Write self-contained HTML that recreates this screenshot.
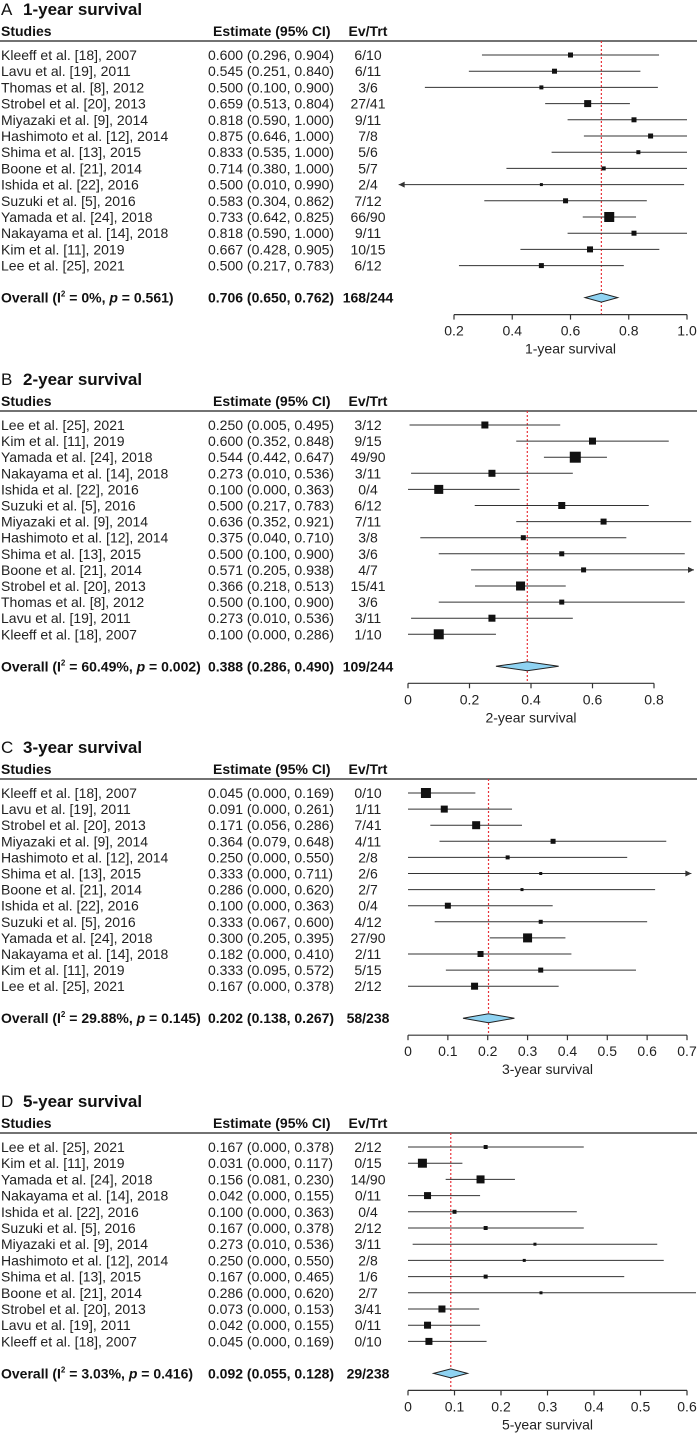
<!DOCTYPE html>
<html><head><meta charset="utf-8"><style>
html,body{margin:0;padding:0;background:#fff;}
svg{display:block;font-family:"Liberation Sans",Arial,sans-serif;}
</style></head><body>
<svg id="fig" width="697" height="1451" viewBox="0 0 697 1451" xmlns="http://www.w3.org/2000/svg"></svg>
<script>
// ---- Panel A: 1-year survival ----
const aStudies=["Kleeff et al. [18], 2007","Lavu et al. [19], 2011","Thomas et al. [8], 2012","Strobel et al. [20], 2013","Miyazaki et al. [9], 2014","Hashimoto et al. [12], 2014","Shima et al. [13], 2015","Boone et al. [21], 2014","Ishida et al. [22], 2016","Suzuki et al. [5], 2016","Yamada et al. [24], 2018","Nakayama et al. [14], 2018","Kim et al. [11], 2019","Lee et al. [25], 2021"];
const aEst=[0.600,0.545,0.500,0.659,0.818,0.875,0.833,0.714,0.500,0.583,0.733,0.818,0.667,0.500];
const aLo=[0.296,0.251,0.100,0.513,0.590,0.646,0.535,0.380,0.010,0.304,0.642,0.590,0.428,0.217];
const aHi=[0.904,0.840,0.900,0.804,1.000,1.000,1.000,1.000,0.990,0.862,0.825,1.000,0.905,0.783];
const aEv=["6/10","6/11","3/6","27/41","9/11","7/8","5/6","5/7","2/4","7/12","66/90","9/11","10/15","6/12"];
const aWt=[5,5,4,7,5,5,4,4,3,5,10,5,6,5];
const aOverall=[0.706,0.650,0.762];
const aTicks=[0.2,0.4,0.6,0.8,1.0];
const aTickLabels=["0.2","0.4","0.6","0.8","1.0"];

// ---- Panel B: 2-year survival ----
const bStudies=["Lee et al. [25], 2021","Kim et al. [11], 2019","Yamada et al. [24], 2018","Nakayama et al. [14], 2018","Ishida et al. [22], 2016","Suzuki et al. [5], 2016","Miyazaki et al. [9], 2014","Hashimoto et al. [12], 2014","Shima et al. [13], 2015","Boone et al. [21], 2014","Strobel et al. [20], 2013","Thomas et al. [8], 2012","Lavu et al. [19], 2011","Kleeff et al. [18], 2007"];
const bEst=[0.250,0.600,0.544,0.273,0.100,0.500,0.636,0.375,0.500,0.571,0.366,0.500,0.273,0.100];
const bLo=[0.005,0.352,0.442,0.010,0.000,0.217,0.352,0.040,0.100,0.205,0.218,0.100,0.010,0.000];
const bHi=[0.495,0.848,0.647,0.536,0.363,0.783,0.921,0.710,0.900,0.938,0.513,0.900,0.536,0.286];
const bEv=["3/12","9/15","49/90","3/11","0/4","6/12","7/11","3/8","3/6","4/7","15/41","3/6","3/11","1/10"];
const bWt=[7,7,11,7,9,7,6,5,5,5,9,5,7,10];
const bOverall=[0.388,0.286,0.490];
const bTicks=[0,0.2,0.4,0.6,0.8];
const bTickLabels=["0","0.2","0.4","0.6","0.8"];

// ---- Panel C: 3-year survival ----
const cStudies=["Kleeff et al. [18], 2007","Lavu et al. [19], 2011","Strobel et al. [20], 2013","Miyazaki et al. [9], 2014","Hashimoto et al. [12], 2014","Shima et al. [13], 2015","Boone et al. [21], 2014","Ishida et al. [22], 2016","Suzuki et al. [5], 2016","Yamada et al. [24], 2018","Nakayama et al. [14], 2018","Kim et al. [11], 2019","Lee et al. [25], 2021"];
const cEst=[0.045,0.091,0.171,0.364,0.250,0.333,0.286,0.100,0.333,0.300,0.182,0.333,0.167];
const cLo=[0.000,0.000,0.056,0.079,0.000,0.000,0.000,0.000,0.067,0.205,0.000,0.095,0.000];
const cHi=[0.169,0.261,0.286,0.648,0.550,0.711,0.620,0.363,0.600,0.395,0.410,0.572,0.378];
const cEv=["0/10","1/11","7/41","4/11","2/8","2/6","2/7","0/4","4/12","27/90","2/11","5/15","2/12"];
const cWt=[10,7,8,5,4,3,3,6,4,9,6,5,7];
const cOverall=[0.202,0.138,0.267];
const cTicks=[0,0.1,0.2,0.3,0.4,0.5,0.6,0.7];
const cTickLabels=["0","0.1","0.2","0.3","0.4","0.5","0.6","0.7"];

// ---- Panel D: 5-year survival ----
const dStudies=["Lee et al. [25], 2021","Kim et al. [11], 2019","Yamada et al. [24], 2018","Nakayama et al. [14], 2018","Ishida et al. [22], 2016","Suzuki et al. [5], 2016","Miyazaki et al. [9], 2014","Hashimoto et al. [12], 2014","Shima et al. [13], 2015","Boone et al. [21], 2014","Strobel et al. [20], 2013","Lavu et al. [19], 2011","Kleeff et al. [18], 2007"];
const dEst=[0.167,0.031,0.156,0.042,0.100,0.167,0.273,0.250,0.167,0.286,0.073,0.042,0.045];
const dLo=[0.000,0.000,0.081,0.000,0.000,0.000,0.010,0.000,0.000,0.000,0.000,0.000,0.000];
const dHi=[0.378,0.117,0.230,0.155,0.363,0.378,0.536,0.550,0.465,0.620,0.153,0.155,0.169];
const dEv=["2/12","0/15","14/90","0/11","0/4","2/12","3/11","2/8","1/6","2/7","3/41","0/11","0/10"];
const dWt=[4,9,8,7,4,4,3,3,4,3,7,7,7];
const dOverall=[0.092,0.055,0.128];
const dTicks=[0,0.1,0.2,0.3,0.4,0.5,0.6];
const dTickLabels=["0","0.1","0.2","0.3","0.4","0.5","0.6"];

const NS="http://www.w3.org/2000/svg";
const svg=document.getElementById('fig');
const FS='14';
function el(tag,attrs,parent){const e=document.createElementNS(NS,tag);for(const k in attrs)e.setAttribute(k,attrs[k]);(parent||svg).appendChild(e);return e;}
function fmt(v){return v.toFixed(3);}

function panel(cfg){
  const g=el('g',{});
  
  
  const y0=cfg.y0, step=cfg.step;
  const xs=v=>cfg.px0+(v-cfg.d0)/(cfg.d1-cfg.d0)*(cfg.px1-cfg.px0);
  // title
  const ta=el('text',{x:1,y:y0-40,'font-size':'17','fill':'#111'},g);
  
  
  ta.textContent=cfg.letter;
  const t=el('text',{x:23,y:y0-40,'font-size':'17','font-weight':'bold','fill':'#111'},g);
  
  
  t.textContent=cfg.title;
  // header
  const hs=[[1,'Studies','start'],[213,'Estimate (95% CI)','start'],[368,'Ev/Trt','middle']];
  hs.forEach(h=>{const e=el('text',{x:h[0],y:y0-19,'font-size':FS,'font-weight':'bold','text-anchor':h[2],fill:'#111'},g);
    
    
    e.textContent=h[1];});
  const hl=el('line',{x1:0,x2:697,y1:y0-14,y2:y0-14,stroke:'#444','stroke-width':1.5},g);
  
  
  const n=cfg.studies.length;
  const yOv=y0+(n-1)*step+32;
  const yAx=yOv+17;
  // ref line
  const xr=xs(cfg.overall[0]);
  const rl=el('line',{x1:xr,x2:xr,y1:y0-14,y2:yAx,stroke:'#e8333a','stroke-width':1.2,'stroke-dasharray':'2,2'},g);
  
  
  for(let i=0;i<n;i++){
    const y=y0+i*step;
    const r=el('g',{},g);
    
    
    const a=el('text',{x:1,y:y+5,'font-size':FS,fill:'#222'},r);a.textContent=cfg.studies[i];
    
    
    const b=el('text',{x:208,y:y+5,'font-size':FS,fill:'#222'},r);
    b.textContent=fmt(cfg.est[i])+' ('+fmt(cfg.lo[i])+', '+fmt(cfg.hi[i])+')';
    
    
    const c=el('text',{x:368,y:y+5,'font-size':FS,'text-anchor':'middle',fill:'#222'},r);c.textContent=cfg.ev[i];
    
    
    const lo=cfg.lo[i],hi=cfg.hi[i];
    const arrowL=lo<cfg.clipLo, arrowR=hi>cfg.clipHi;
    let x1=xs(lo),x2=Math.min(xs(hi),696);
    if(arrowR)x2=Math.min(x2,694);
    const ln=el('line',{x1:x1,x2:x2,y1:y,y2:y,stroke:'#333','stroke-width':1},r);
    
    
    if(arrowL){const p=el('path',{d:`M${x1} ${y} l6 -3 v6 z`,fill:'#333'},r);
      
      }
    if(arrowR){const p=el('path',{d:`M${x2} ${y} l-6 -3 v6 z`,fill:'#333'},r);
      
      }
    const s=cfg.wt[i];
    const sq=el('rect',{x:xs(cfg.est[i])-s/2,y:y-s/2,width:s,height:s,fill:'#111'},r);
    
    
  }
  // overall row
  const o1=el('text',{x:1,y:yOv+5,'font-size':FS,'font-weight':'bold',fill:'#111'},g);
  
  
  let s1=el('tspan',{},o1);s1.textContent='Overall (I';
  let s2=el('tspan',{'font-size':'8',dy:'-6'},o1);s2.textContent='2';
  let s3=el('tspan',{dy:'6'},o1);s3.textContent=' = '+cfg.i2+', ';
  let s4=el('tspan',{'font-style':'italic'},o1);s4.textContent='p';
  let s5=el('tspan',{},o1);s5.textContent=' = '+cfg.p+')';
  const o2=el('text',{x:208,y:yOv+5,'font-size':FS,'font-weight':'bold',fill:'#111'},g);
  o2.textContent=fmt(cfg.overall[0])+' ('+fmt(cfg.overall[1])+', '+fmt(cfg.overall[2])+')';
  
  
  const o3=el('text',{x:368,y:yOv+5,'font-size':FS,'font-weight':'bold','text-anchor':'middle',fill:'#111'},g);
  o3.textContent=cfg.ovEv;
  
  
  const dm=el('path',{d:`M${xs(cfg.overall[1])} ${yOv} L${xs(cfg.overall[0])} ${yOv-4.5} L${xs(cfg.overall[2])} ${yOv} L${xs(cfg.overall[0])} ${yOv+4.5} Z`,fill:'#8fd3f2',stroke:'#222','stroke-width':1},g);
  
  
  // axis
  const ax=el('line',{x1:cfg.px0,x2:cfg.px1,y1:yAx,y2:yAx,stroke:'#333','stroke-width':1.2},g);
  
  
  cfg.ticks.forEach((v,k)=>{
    const tk=el('line',{x1:xs(v),x2:xs(v),y1:yAx,y2:yAx+5,stroke:'#333','stroke-width':1.2},g);
    
    
    const tl=el('text',{x:xs(v),y:yAx+21,'font-size':FS,'text-anchor':'middle',fill:'#222'},g);
    tl.textContent=cfg.tickLabels[k];
    
    
  });
  const xt=el('text',{x:(cfg.px0+cfg.px1)/2,y:yAx+39,'font-size':FS,'text-anchor':'middle',fill:'#222'},g);
  xt.textContent=cfg.title;
  
  
}

panel({letter:'A',title:'1-year survival',y0:55,step:16.2,studies:aStudies,est:aEst,lo:aLo,hi:aHi,ev:aEv,wt:aWt,overall:aOverall,ovEv:'168/244',i2:'0%',p:'0.561',ticks:aTicks,tickLabels:aTickLabels,d0:0.2,d1:1.0,px0:454,px1:687,clipLo:0.05,clipHi:1.05});
panel({letter:'B',title:'2-year survival',y0:425,step:16.1,studies:bStudies,est:bEst,lo:bLo,hi:bHi,ev:bEv,wt:bWt,overall:bOverall,ovEv:'109/244',i2:'60.49%',p:'0.002',ticks:bTicks,tickLabels:bTickLabels,d0:0,d1:0.8,px0:408,px1:654,clipLo:-1,clipHi:0.93});
panel({letter:'C',title:'3-year survival',y0:793,step:16.1,studies:cStudies,est:cEst,lo:cLo,hi:cHi,ev:cEv,wt:cWt,overall:cOverall,ovEv:'58/238',i2:'29.88%',p:'0.145',ticks:cTicks,tickLabels:cTickLabels,d0:0,d1:0.7,px0:408,px1:687,clipLo:-1,clipHi:0.705});
panel({letter:'D',title:'5-year survival',y0:1147,step:16.2,studies:dStudies,est:dEst,lo:dLo,hi:dHi,ev:dEv,wt:dWt,overall:dOverall,ovEv:'29/238',i2:'3.03%',p:'0.416',ticks:dTicks,tickLabels:dTickLabels,d0:0,d1:0.6,px0:408,px1:687,clipLo:-1,clipHi:0.63});
</script>
</body></html>
